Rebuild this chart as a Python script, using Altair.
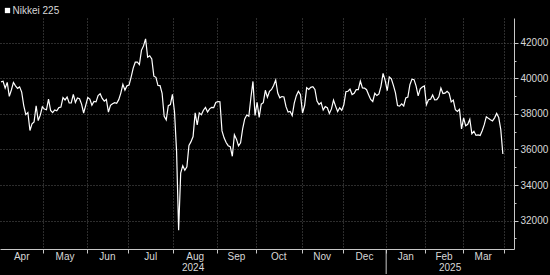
import altair as alt
import pandas as pd

# Trading days per month (day-of-month) and closing values, Nikkei 225, Apr 2024 - Mar 2025
month_keys = ["2024-04", "2024-05", "2024-06", "2024-07", "2024-08", "2024-09",
              "2024-10", "2024-11", "2024-12", "2025-01", "2025-02", "2025-03"]
month_names = ["Apr", "May", "Jun", "Jul", "Aug", "Sep", "Oct", "Nov", "Dec", "Jan", "Feb", "Mar"]

days_by_month = [
    [1, 2, 3, 4, 5, 8, 9, 10, 11, 12, 15, 16, 17, 18, 19, 22, 23, 24, 25, 26, 30],
    [1, 2, 7, 8, 9, 10, 13, 14, 15, 16, 17, 20, 21, 22, 23, 24, 27, 28, 29, 30, 31],
    [3, 4, 5, 6, 7, 10, 11, 12, 13, 14, 17, 18, 19, 20, 21, 24, 25, 26, 27, 28],
    [1, 2, 3, 4, 5, 8, 9, 10, 11, 12, 16, 17, 18, 19, 22, 23, 24, 25, 26, 29, 30, 31],
    [1, 2, 5, 6, 7, 8, 9, 13, 14, 15, 16, 19, 20, 21, 22, 23, 26, 27, 28, 29, 30],
    [2, 3, 4, 5, 6, 9, 10, 11, 12, 13, 17, 18, 19, 20, 24, 25, 26, 27, 30],
    [1, 2, 3, 4, 7, 8, 9, 10, 11, 15, 16, 17, 18, 21, 22, 23, 24, 25, 28, 29, 30, 31],
    [1, 5, 6, 7, 8, 11, 12, 13, 14, 15, 18, 19, 20, 21, 22, 25, 26, 27, 28, 29],
    [2, 3, 4, 5, 6, 9, 10, 11, 12, 13, 16, 17, 18, 19, 20, 23, 24, 25, 26, 27, 30],
    [6, 7, 8, 9, 10, 14, 15, 16, 17, 20, 21, 22, 23, 24, 27, 28, 29, 30, 31],
    [3, 4, 5, 6, 7, 10, 12, 13, 14, 17, 18, 19, 20, 21, 25, 26, 27, 28],
    [3, 4, 5, 6, 7, 10, 11, 12, 13, 14, 17, 18, 19, 21, 24, 25, 26, 27, 28, 31],
]

closes_apr = [39803, 39838, 39451, 39773, 38992, 39347, 39773, 39581, 39442, 39523, 39232,
              38471, 37961, 38079, 37068, 37438, 37552, 38460, 37628, 37934, 38405]
closes_may = [38274, 38236, 38835, 38202, 38073, 38229, 38179, 38356, 38385, 38920, 38787,
              38946, 38617, 38617, 39103, 38646, 38900, 38855, 38556, 38054, 38487]
closes_jun = [38923, 38837, 38490, 38703, 38683, 39038, 39134, 38876, 38720, 38814, 38102,
              38482, 38570, 38633, 38596, 38804, 39173, 39667, 39341, 39583]
closes_jul = [39631, 40074, 40580, 40913, 40912, 40780, 41580, 41831, 42224, 41190, 41275,
              41097, 40126, 40063, 39599, 39594, 39154, 37869, 37667, 38468, 38525, 39101]
closes_aug = [38126, 35909, 31458, 34675, 35089, 34831, 35025, 36232, 36442, 36726, 38062,
              37388, 38062, 37951, 38211, 38364, 38110, 38288, 38371, 38362, 38647]
closes_sep = [38700, 38686, 37047, 36657, 36391, 36215, 36159, 35619, 36833, 36581, 36203,
              36380, 37155, 37724, 37940, 37870, 38926, 39830, 37919]
closes_oct = [38651, 37808, 38552, 38635, 39332, 38937, 39277, 39380, 39605, 39910, 39180,
              38911, 38981, 38954, 38411, 38104, 38143, 37913, 38605, 39027, 39277, 39081]
closes_nov = [38053, 38474, 39480, 39381, 39500, 39533, 39376, 38721, 38535, 38642, 38220,
              38414, 38352, 38026, 38283, 38780, 38442, 38134, 38349, 38208]
closes_dec = [38513, 39248, 39276, 39395, 39091, 39160, 39367, 39372, 39849, 39470, 39457,
              39364, 39081, 38813, 38701, 39161, 39036, 39130, 39568, 40281, 39894]
closes_jan = [39307, 40083, 39981, 39605, 39190, 38474, 38444, 38572, 38451, 38902, 38946,
              39646, 39958, 39931, 39565, 39016, 39414, 39513, 39572]
closes_feb = [38520, 38798, 38831, 39066, 38787, 38801, 38963, 39461, 39149, 39174, 39270,
              39164, 38678, 38776, 38237, 38142, 38256, 37155]
closes_mar = [37785, 37331, 37418, 37705, 36887, 37028, 36793, 36819, 36790, 37053, 37396,
              37845, 37751, 37677, 37608, 37780, 38027, 37799, 37120, 35750]

closes_by_month = [closes_apr, closes_may, closes_jun, closes_jul, closes_aug, closes_sep,
                   closes_oct, closes_nov, closes_dec, closes_jan, closes_feb, closes_mar]

y_labeled_ticks = [32000, 34000, 36000, 38000, 40000, 42000]
y_minor_ticks = [31000, 33000, 35000, 37000, 39000, 41000]
series_name = "Nikkei 225"

# ---- build tables ----
rows = []
month_rows = []
boundaries = []
idx = 0
for key, name, days, vals in zip(month_keys, month_names, days_by_month, closes_by_month):
    assert len(days) == len(vals)
    start = idx
    for d, v in zip(days, vals):
        rows.append({"i": idx, "date": f"{key}-{d:02d}", "close": v})
        idx += 1
    if start > 0:
        boundaries.append(start - 0.5)
    month_rows.append({"mid": (start + idx - 1) / 2, "name": name, "year": key[:4]})
boundaries.append(idx - 0.5)
df = pd.DataFrame(rows)
months_df = pd.DataFrame(month_rows)

x_min, x_max = -0.5, 248.4
year_sep = boundaries[month_names.index("Jan") - 1]
years_df = pd.DataFrame({
    "year": ["2024", "2025"],
    "mid": [(x_min + year_sep) / 2, (year_sep + x_max) / 2],
})
sep_df = pd.DataFrame({"x": [year_sep]})
legend_df = pd.DataFrame({"label": [series_name]})

xscale = alt.Scale(domain=[x_min, x_max], nice=False, zero=False)
yscale = alt.Scale(domain=[30400, 43400], nice=False, zero=False)

FONT = "Liberation Sans"
LABEL_COLOR = "#d8d8d8"
AXIS_COLOR = "#c8c8c8"
GRID_COLOR = "#5a5a5a"

line = alt.Chart(df).mark_line(color="white", strokeWidth=1.2).encode(
    x=alt.X("i:Q", scale=xscale,
            axis=alt.Axis(values=boundaries, labels=False, title=None, grid=True,
                          gridColor=GRID_COLOR, gridDash=[1, 2], gridWidth=1,
                          tickSize=4, tickColor=AXIS_COLOR, domainColor=AXIS_COLOR,
                          orient="bottom")),
    y=alt.Y("close:Q", scale=yscale,
            axis=alt.Axis(orient="right", title=None,
                          values=sorted(y_labeled_ticks + y_minor_ticks),
                          labelExpr="datum.value % 2000 == 0 ? format(datum.value, 'd') : ''",
                          tickSize={"condition": {"test": "datum.value % 2000 == 0", "value": 4}, "value": 2},
                          gridOpacity={"condition": {"test": "datum.value % 2000 == 0", "value": 1}, "value": 0},
                          grid=True, gridColor=GRID_COLOR, gridDash=[1, 2], gridWidth=1,
                          tickColor=AXIS_COLOR, domainColor=AXIS_COLOR,
                          labelColor=LABEL_COLOR, labelFontSize=10, labelFont=FONT,
                          labelPadding=2, labelFlush=False)),
)

month_text = alt.Chart(months_df).mark_text(
    color=LABEL_COLOR, fontSize=10, font=FONT, baseline="alphabetic", align="center"
).encode(x=alt.X("mid:Q", scale=xscale), y=alt.value(242), text="name:N")

year_text = alt.Chart(years_df).mark_text(
    color=LABEL_COLOR, fontSize=10, font=FONT, baseline="alphabetic", align="center"
).encode(x=alt.X("mid:Q", scale=xscale), y=alt.value(253), text="year:N")

sep_rule = alt.Chart(sep_df).mark_rule(color=AXIS_COLOR, strokeWidth=1).encode(
    x=alt.X("x:Q", scale=xscale), y=alt.value(231), y2=alt.value(256)
)

legend_sq = alt.Chart(legend_df).mark_square(color="white", size=28, opacity=1).encode(
    x=alt.value(7.5), y=alt.value(-7.5)
)
legend_txt = alt.Chart(legend_df).mark_text(
    color=LABEL_COLOR, fontSize=10, font=FONT, align="left", baseline="middle"
).encode(x=alt.value(12.5), y=alt.value(-7.5), text="label:N")

chart = alt.layer(line, month_text, year_text, sep_rule, legend_sq, legend_txt).properties(
    width=514, height=231,
    padding={"left": 0, "top": 18, "right": 36, "bottom": 26},
    autosize="none",
    background="black",
).configure_view(strokeOpacity=0)

chart.save("out.html", embed_options={"renderer": "svg", "actions": False})
